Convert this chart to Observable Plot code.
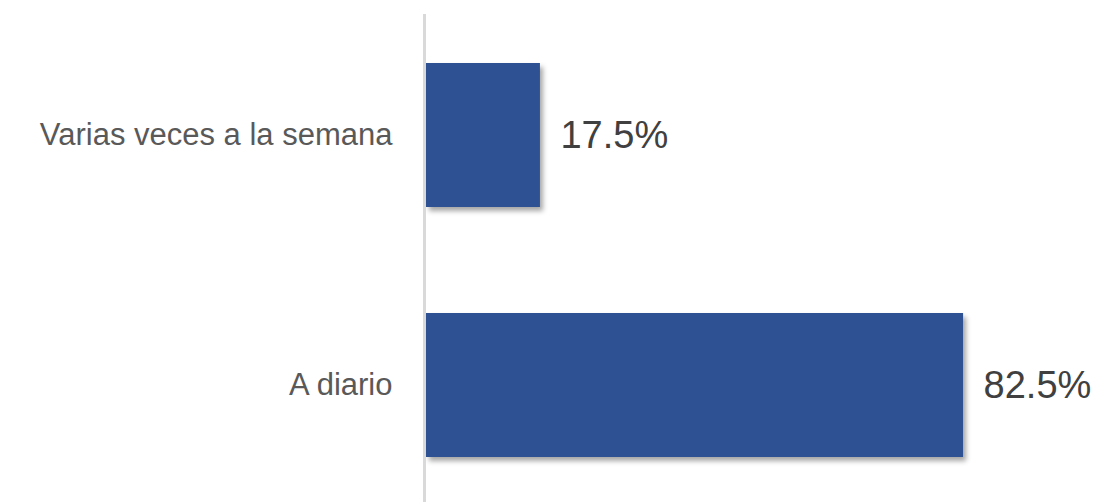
<!DOCTYPE html>
<html>
<head>
<meta charset="utf-8">
<script src="https://cdn.jsdelivr.net/npm/d3@7"></script>
<script src="https://cdn.jsdelivr.net/npm/@observablehq/plot@0.6"></script>
<style>
  html, body { margin: 0; padding: 0; background: #fff; }
  #chart svg { display: block; }
</style>
</head>
<body>
<div id="chart"></div>
<script>
const categories = ["Varias veces a la semana", "A diario"];
const values = [17.5, 82.5];
const valueLabels = ["17.5%", "82.5%"];

const data = categories.map((c, i) => ({category: c, value: values[i], label: valueLabels[i]}));

const chart = Plot.plot({
  width: 1097,
  height: 502,
  marginLeft: 426,
  marginRight: 20,
  marginTop: 14,
  marginBottom: 0,
  style: {fontFamily: "Arial, 'Liberation Sans', sans-serif", background: "#fff"},
  x: {domain: [0, 100], axis: null},
  y: {domain: categories, paddingInner: 0.424, paddingOuter: 0.188, align: 0.52, label: null, tickSize: 0, tickPadding: 34},
  marks: [
    Plot.axisY({tickSize: 0, tickPadding: 34, fontSize: 31, color: "#595959", label: null}),
    Plot.barX(data, {x: "value", y: "category", fill: "#2e5193", className: "bars"}),
    Plot.ruleX([0], {stroke: "#d9d9d9", strokeWidth: 3, dx: -2}),
    Plot.text(data, {x: "value", y: "category", text: "label", textAnchor: "start", dx: 20, fontSize: 38, fill: "#404040"})
  ]
});

const ns = "http://www.w3.org/2000/svg";
const defs = document.createElementNS(ns, "defs");
defs.innerHTML = '<filter id="shadow" x="-10%" y="-10%" width="130%" height="130%"><feDropShadow dx="3" dy="4" stdDeviation="2.5" flood-color="#000" flood-opacity="0.35"/></filter>';
chart.insertBefore(defs, chart.firstChild);
const bars = chart.querySelector("g.bars") || chart.querySelector("g[aria-label='bar']");
if (bars) bars.setAttribute("filter", "url(#shadow)");

document.getElementById("chart").appendChild(chart);
</script>
</body>
</html>
